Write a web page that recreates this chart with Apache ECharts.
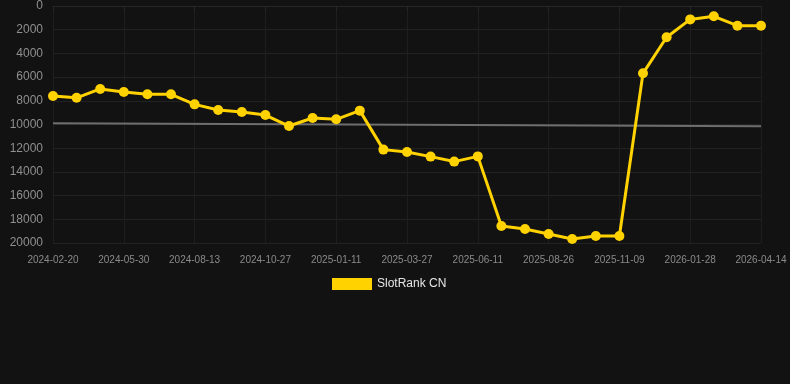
<!DOCTYPE html>
<html>
<head>
<meta charset="utf-8">
<script src="https://cdn.jsdelivr.net/npm/echarts@6/dist/echarts.min.js"></script>
<style>
  html, body { margin: 0; padding: 0; background: #121212; }
  #main { width: 790px; height: 384px; }
</style>
</head>
<body>
<div id="main"></div>
<script>
// dates of each sample (only every 3rd one is labelled)
var dates = [
  '2024-02-20', '2024-03-24', '2024-04-27', '2024-05-30', '2024-06-24', '2024-07-19',
  '2024-08-13', '2024-09-07', '2024-10-02', '2024-10-27', '2024-11-21', '2024-12-16',
  '2025-01-11', '2025-02-05', '2025-03-02', '2025-03-27', '2025-04-21', '2025-05-17',
  '2025-06-11', '2025-07-06', '2025-07-31', '2025-08-26', '2025-09-20', '2025-10-15',
  '2025-11-09', '2025-12-06', '2026-01-02', '2026-01-28', '2026-02-22', '2026-03-19',
  '2026-04-14'
]
var rankCN = [
  7600, 7750, 7000, 7250, 7450, 7450,
  8300, 8780, 8950, 9200, 10130, 9450,
  9560, 8830, 12120, 12320, 12710, 13130,
  12690, 18560, 18820, 19240, 19660, 19410,
  19410, 5680, 2640, 1130, 870, 1660,
  1660
]
// trend line end points [index, value]
var trend = [[0, 9900], [30, 10150]]

var chart = echarts.init(document.getElementById('main'))

function labelEvery3(index) {
  return index % 3 === 0
}

var options = {
  backgroundColor: '#121212',
  animation: false,
  grid: {
    left: 53,
    right: 29,
    top: 6,
    bottom: 141
  },
  legend: {
    data: ['SlotRank CN'],
    top: 273,
    left: 327,
    itemWidth: 40,
    itemHeight: 12,
    icon: 'rect',
    textStyle: {
      color: '#e6e6e6',
      fontSize: 12,
      fontFamily: 'Liberation Sans, Arial, sans-serif'
    }
  },
  xAxis: {
    type: 'category',
    boundaryGap: false,
    data: dates,
    axisLine: { show: true, lineStyle: { color: '#262626' } },
    axisTick: { show: true, interval: labelEvery3, length: 4, lineStyle: { color: '#262626' } },
    axisLabel: {
      interval: labelEvery3,
      color: '#8a8a8a',
      fontSize: 10,
      margin: 12,
      fontFamily: 'Liberation Sans, Arial, sans-serif'
    },
    splitLine: {
      show: true,
      interval: labelEvery3,
      lineStyle: { color: '#1e1e1e' }
    }
  },
  yAxis: {
    type: 'value',
    inverse: true,
    min: 0,
    max: 20000,
    interval: 2000,
    axisLine: { show: false },
    axisTick: { show: false },
    axisLabel: {
      color: '#8f8f8f',
      fontSize: 12,
      margin: 10,
      formatter: function (v) { return String(v) },
      fontFamily: 'Liberation Sans, Arial, sans-serif'
    },
    splitLine: {
      lineStyle: { color: '#222222' }
    }
  },
  series: [{
    name: 'trend',
    type: 'line',
    data: trend,
    symbol: 'none',
    silent: true,
    lineStyle: { color: '#6e6e6e', width: 2 },
    z: 1
  }, {
    name: 'SlotRank CN',
    type: 'line',
    data: rankCN,
    symbol: 'circle',
    symbolSize: 10,
    color: '#FFD200',
    lineStyle: { color: '#FFD200', width: 3 },
    itemStyle: { color: '#FFD200' },
    z: 2
  }]
}
chart.setOption(options)
</script>
</body>
</html>
